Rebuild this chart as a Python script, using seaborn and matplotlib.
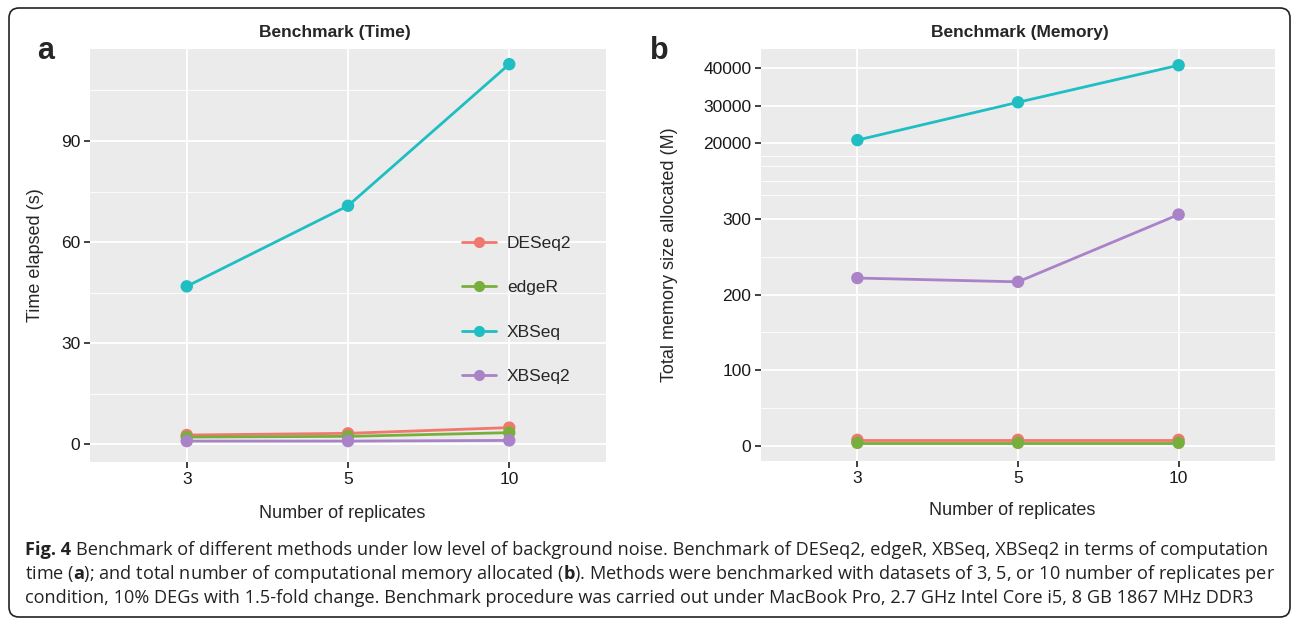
import numpy as np
import pandas as pd
import matplotlib
matplotlib.use('Agg')
import matplotlib.pyplot as plt
import seaborn as sns
from matplotlib.lines import Line2D
from matplotlib.patches import FancyBboxPatch


replicates = ['3', '5', '10']
methods = ['DESeq2', 'edgeR', 'XBSeq', 'XBSeq2']
colors = ['#F0786E', '#78AF3C', '#1EBEC3', '#AA82C8']

# time elapsed (s)
time_deseq2 = [2.8, 3.3, 5.0]
time_edger = [2.2, 2.4, 3.5]
time_xbseq = [46.9, 70.8, 112.8]
time_xbseq2 = [1.0, 1.0, 1.2]

# total memory allocated (M)
mem_deseq2 = [8, 8, 8]
mem_edger = [4, 4, 4]
mem_xbseq = [20900, 30900, 40700]
mem_xbseq2 = [222, 217, 306]


def long_table(series):
    rows = []
    for m, vals in zip(methods, series):
        for i, (r, v) in enumerate(zip(replicates, vals)):
            rows.append({'method': m, 'rep': r, 'pos': i, 'value': v})
    return pd.DataFrame(rows)


df_time = long_table([time_deseq2, time_edger, time_xbseq, time_xbseq2])
df_mem = long_table([mem_deseq2, mem_edger, mem_xbseq, mem_xbseq2])

sns.set_style('darkgrid', {
    'axes.facecolor': '#EBEBEB',
    'grid.color': 'white',
    'xtick.bottom': True,
    'ytick.left': True,
})
plt.rcParams['font.family'] = ['Liberation Sans', 'DejaVu Sans']
plt.rcParams['mathtext.fontset'] = 'custom'
plt.rcParams['mathtext.rm'] = 'Open Sans'
plt.rcParams['mathtext.bf'] = 'Open Sans:bold'
plt.rcParams['xtick.major.size'] = 4
plt.rcParams['ytick.major.size'] = 4
plt.rcParams['xtick.major.width'] = 1.3
plt.rcParams['ytick.major.width'] = 1.3
plt.rcParams['xtick.color'] = '#333333'
plt.rcParams['ytick.color'] = '#333333'
plt.rcParams['xtick.labelcolor'] = '#1a1a1a'
plt.rcParams['ytick.labelcolor'] = '#1a1a1a'

W, H = 1293, 620
fig = plt.figure(figsize=(W / 100, H / 100), dpi=100)

ax_a = fig.add_axes([90 / W, (H - 462) / H, 516 / W, 413 / H])
ax_b = fig.add_axes([761 / W, (H - 461) / H, 514 / W, 412 / H])


def draw(ax, df):
    sns.lineplot(data=df, x='pos', y='value', hue='method', hue_order=methods,
                 palette=colors, lw=2, legend=False, ax=ax, zorder=3)
    sns.scatterplot(data=df, x='pos', y='value', hue='method', hue_order=methods,
                    palette=colors, s=80, linewidth=0, legend=False, ax=ax, zorder=4)
    ax.set_xticks(range(len(replicates)))
    ax.set_xticklabels(replicates)
    ax.set_xlim(-0.6, len(replicates) - 0.4)
    for s in ax.spines.values():
        s.set_visible(False)
    ax.grid(which='major', color='white', lw=1.3)
    ax.grid(which='minor', color='white', lw=0.6)
    ax.tick_params(axis='both', which='major', labelsize=12.5, pad=3)
    ax.tick_params(axis='y', which='minor', length=0)
    ax.set_axisbelow(True)


# panel a
draw(ax_a, df_time)
ax_a.set_ylim(-5.2, 117.3)
ax_a.set_yticks([0, 30, 60, 90])
ax_a.set_yticks([15, 45, 75, 105], minor=True)
ax_a.set_xlabel('Number of replicates', fontsize=13)
ax_a.set_ylabel('Time elapsed (s)', fontsize=13)
ax_a.xaxis.set_label_coords(0.488, -0.103)
ax_a.yaxis.set_label_coords(-0.089, 0.5)

handles = [Line2D([], [], color=c, lw=2, marker='o', ms=7) for c in colors]
ax_a.legend(handles, methods, loc='upper left', bbox_to_anchor=(0.69, 0.585),
            frameon=False, labelspacing=1.68, handlelength=2.0,
            handletextpad=0.6, fontsize=12.5)


# panel b with a squeezed upper range
def fwd(y):
    y = np.asarray(y, dtype=float)
    return np.where(y <= 330, y,
                    np.where(y <= 20000, 330 + (y - 330) / 281, 400 + (y - 20000) / 200))


def inv(t):
    t = np.asarray(t, dtype=float)
    return np.where(t <= 330, t,
                    np.where(t <= 400, 330 + (t - 330) * 281, 20000 + (t - 400) * 200))


draw(ax_b, df_mem)
ax_b.set_yscale('function', functions=(fwd, inv))
ax_b.set_yticks([0, 100, 200, 300, 20000, 30000, 40000])
ax_b.set_yticklabels(['0', '100', '200', '300', '20000', '30000', '40000'])
ax_b.set_yticks([50, 150, 250, 750, 5950, 11570, 15360], minor=True)
ax_b.set_ylim(-20, 45000)
ax_b.set_xlabel('Number of replicates', fontsize=13)
ax_b.set_ylabel('Total memory size allocated (M)', fontsize=13)
ax_b.xaxis.set_label_coords(0.488, -0.1)
ax_b.yaxis.set_label_coords(-0.161, 0.5)

# titles and panel letters
fig.text(335 / W, 1 - 32 / H, 'Benchmark (Time)', ha='center', va='center',
         fontsize=12.5, fontweight='bold')
fig.text(1020 / W, 1 - 32 / H, 'Benchmark (Memory)', ha='center', va='center',
         fontsize=12.5, fontweight='bold')
fig.text(46 / W, 1 - 59 / H, 'a', ha='center', va='baseline', fontsize=22, fontweight='bold')
fig.text(659 / W, 1 - 59 / H, 'b', ha='center', va='baseline', fontsize=22, fontweight='bold')

# caption
cap_font = ['Open Sans', 'DejaVu Sans']
caption_head = 'Fig. 4'
caption = [
    'Benchmark of different methods under low level of background noise. '
    'Benchmark of DESeq2, edgeR, XBSeq, XBSeq2 in terms of computation',
    r'time ($\mathbf{a}$); and total number of computational memory allocated ($\mathbf{b}$). '
    'Methods were benchmarked with datasets of 3, 5, or 10 number of replicates per',
    'condition, 10% DEGs with 1.5-fold change. Benchmark procedure was carried out under '
    'MacBook Pro, 2.7 GHz Intel Core i5, 8 GB 1867 MHz DDR3',
]
baselines = [555, 579, 603]
x0 = 25
head = fig.text(x0 / W, 1 - baselines[0] / H, caption_head, ha='left', va='baseline',
                fontsize=12, fontweight='bold', family=cap_font, color='#222222')
cap_texts = [fig.text(x0 / W, 1 - b / H, s, ha='left', va='baseline', fontsize=12,
                      family=cap_font, color='#222222')
             for s, b in zip(caption, baselines)]

fig.canvas.draw()
space = 12 * 0.26 * 100 / 72
w0 = head.get_window_extent().width + space + cap_texts[0].get_window_extent().width
k = 1236 / w0
head.set_fontsize(12 * k)
for t in cap_texts:
    t.set_fontsize(12 * k)
fig.canvas.draw()
x1 = head.get_window_extent().x1 + space * k
cap_texts[0].set_x(x1 / W)

# rounded frame
frame = FancyBboxPatch((0.09, 0.03), 12.81, 6.09, boxstyle='round,pad=0,rounding_size=0.1',
                       transform=fig.dpi_scale_trans, fill=False, lw=1.2, ec='#222222')
fig.add_artist(frame)

plt.savefig('out.png', dpi=100)
plt.close()
